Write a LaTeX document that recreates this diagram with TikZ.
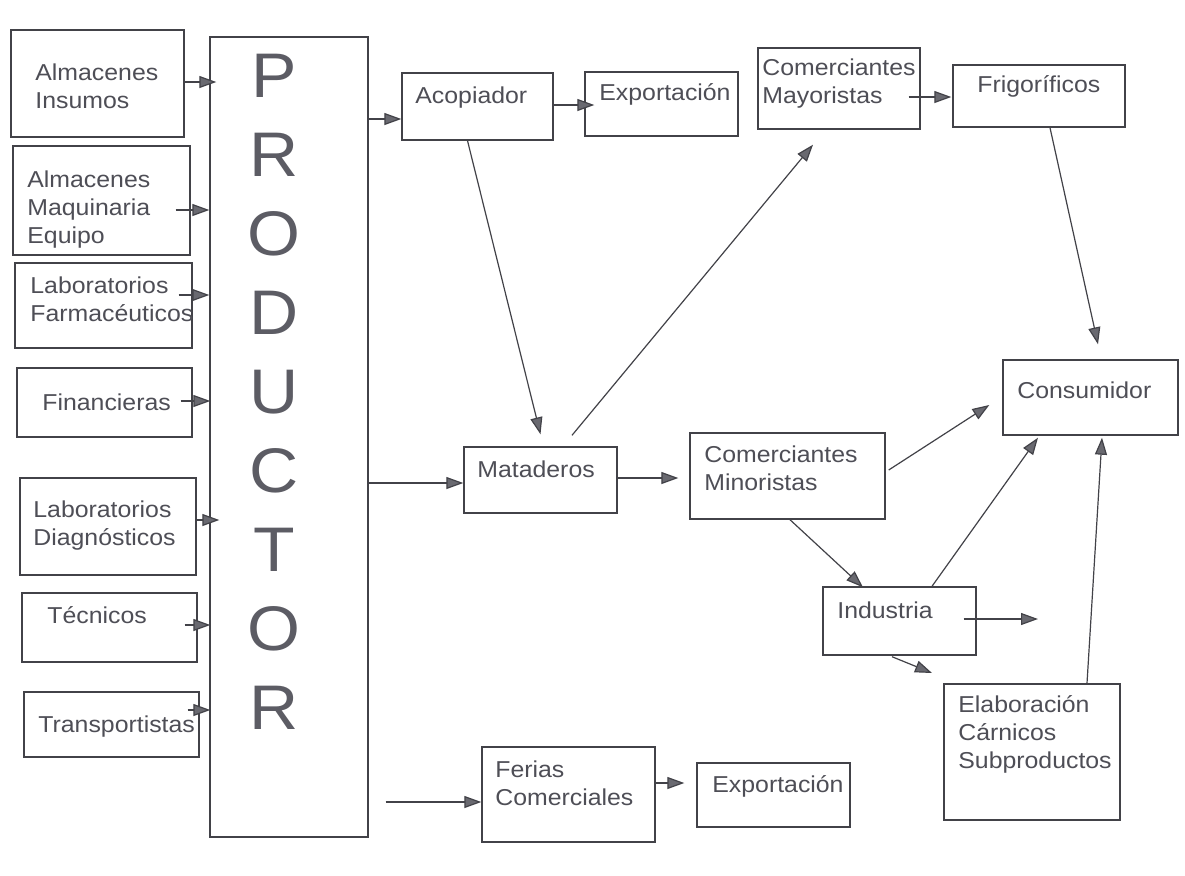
\documentclass[tikz,border=0pt]{standalone}
\usepackage{fontspec}
\setmainfont[FakeStretch=1.08]{Liberation Sans}
\usetikzlibrary{arrows.meta,calc,fit}
\definecolor{ink}{RGB}{66,66,72}
\definecolor{txtc}{RGB}{78,78,86}
\definecolor{bigc}{RGB}{92,92,100}
\definecolor{tipc}{RGB}{105,105,112}
\tikzset{
  box/.style={draw=ink, line width=0.7pt, inner sep=0pt, rectangle},
  txt/.style={text=txtc, inner sep=0pt, anchor=base west, font=\fontsize{11.5}{14}\selectfont},
  arr/.style={draw=ink, line width=0.6pt, -{Triangle[length=8.5pt,width=6pt,fill=tipc]}},
}
\newcommand\mkbox[5]{\path (#2,#3) coordinate (#1-nw) (#4,#5) coordinate (#1-se); \node[box, fit=(#1-nw)(#1-se)] (#1) {};}
\newcommand\ml[1]{\begin{tabular}[t]{@{}l@{}}#1\end{tabular}}
\begin{document}
\begin{tikzpicture}[x=0.5pt,y=-0.5pt]
\useasboundingbox[fill=white] (0,0) rectangle (1185,875);
% boxes
\mkbox{ins}{11}{30}{184}{137}
\mkbox{maq}{13}{146}{190}{255}
\mkbox{farm}{15}{263}{192}{348}
\mkbox{fin}{17}{368}{192}{437}
\mkbox{diag}{20}{478}{196}{575}
\mkbox{tec}{22}{593}{197}{662}
\mkbox{trans}{24}{692}{199}{757}
\mkbox{prod}{210}{37}{368}{837}
\mkbox{acop}{402}{73}{553}{140}
\mkbox{exp1}{585}{72}{738}{136}
\mkbox{cmay}{758}{48}{920}{129}
\mkbox{frig}{953}{65}{1125}{127}
\mkbox{cons}{1003}{360}{1178}{435}
\mkbox{mat}{464}{447}{617}{513}
\mkbox{cmin}{690}{433}{885}{519}
\mkbox{ind}{823}{587}{976}{655}
\mkbox{elab}{944}{684}{1120}{820}
\mkbox{fer}{482}{747}{655}{842}
\mkbox{exp2}{697}{763}{850}{827}
% texts
\node[txt] (ins-t) at (35,80) {\ml{Almacenes\\Insumos}};
\node[txt] (maq-t) at (27,187) {\ml{Almacenes\\Maquinaria\\Equipo}};
\node[txt] (farm-t) at (30,293) {\ml{Laboratorios\\Farmacéuticos}};
\node[txt] (fin-t) at (42,410) {Financieras};
\node[txt] (diag-t) at (33,517) {\ml{Laboratorios\\Diagnósticos}};
\node[txt] (tec-t) at (47,623) {Técnicos};
\node[txt] (trans-t) at (38,732) {Transportistas};
\node[txt, text=bigc, anchor=base, font=\fontsize{31.5}{39.5}\selectfont] (prod-t) at (274,97)
  {\begin{tabular}[t]{@{}c@{}}P\\R\\O\\D\\U\\C\\T\\O\\R\end{tabular}};
\node[txt] (acop-t) at (415,103) {Acopiador};
\node[txt] (exp1-t) at (599,100) {Exportación};
\node[txt] (cmay-t) at (762,75) {\ml{Comerciantes\\Mayoristas}};
\node[txt] (frig-t) at (977,92) {Frigoríficos};
\node[txt] (cons-t) at (1017,398) {Consumidor};
\node[txt] (mat-t) at (477,477) {Mataderos};
\node[txt] (cmin-t) at (704,462) {\ml{Comerciantes\\Minoristas}};
\node[txt] (ind-t) at (837,618) {Industria};
\node[txt] (elab-t) at (958,712) {\ml{Elaboración\\Cárnicos\\Subproductos}};
\node[txt] (fer-t) at (495,777) {\ml{Ferias\\Comerciales}};
\node[txt] (exp2-t) at (712,792) {Exportación};
% arrows into PRODUCTOR
\draw[arr] ($(ins.east)+(0,-1.5)$) -- ($(ins.east -| prod.west)+(7,-1.5)$);
\draw[arr] ($(maq.east)+(-15,9.5)$) -- ($(maq.east -| prod.west)+(0,9.5)$);
\draw[arr] ($(farm.east)+(-14,-10.5)$) -- ($(farm.east -| prod.west)+(0,-10.5)$);
\draw[arr] ($(fin.east)+(-12,-1.5)$) -- ($(fin.east -| prod.west)+(1,-1.5)$);
\draw[arr] ($(diag.east)+(-1,-6.5)$) -- ($(diag.east -| prod.west)+(10,-6.5)$);
\draw[arr] ($(tec.east)+(-13,-2.5)$) -- ($(tec.east -| prod.west)+(1,-2.5)$);
\draw[arr] ($(trans.east)+(-12,-14.5)$) -- ($(trans.east -| prod.west)+(1,-14.5)$);
% arrows out of PRODUCTOR
\draw[arr] ($(acop.west -| prod.east)+(0,12.5)$) -- ($(acop.west)+(0,12.5)$);
\draw[arr] ($(mat.west -| prod.east)+(0,3)$) -- ($(mat.west)+(0,3)$);
\draw[arr] ($(fer.west -| prod.east)+(17,7.5)$) -- ($(fer.west)+(0,7.5)$);
% chain
\draw[arr] ($(acop.east)+(0,-1.5)$) -- ($(exp1.west)+(10,1)$);
\draw[arr] ($(acop.south)+(-10,0)$) -- ($(mat.north)+(0,-12)$);
\draw[arr] ($(mat.north)+(31.5,-11)$) -- ($(cmay.south)+(-26,15)$);
\draw[arr] ($(mat.east)+(0,-2)$) -- ($(cmin.west)+(-11,2)$);
\draw[arr] ($(cmay.east)+(-12,8.5)$) -- ($(frig.west)+(-1,1)$);
\draw[arr] ($(frig.south)+(11,0)$) -- ($(cons.north)+(7.5,-15)$);
\draw[arr] ($(cmin.east)+(3,-6)$) -- ($(cons.west)+(-13,7.5)$);
\draw[arr] ($(cmin.south)+(2.5,0)$) -- ($(ind.north)+(-36.5,1)$);
\draw[arr] ($(ind.north)+(32.5,0)$) -- ($(cons.south)+(-52.5,2)$);
\draw[arr] ($(elab.north)+(55,0)$) -- ($(cons.south)+(11.5,2)$);
\coordinate (indout) at (1038,619);
\coordinate (indelab) at (932,673);
\draw[arr] ($(ind.east)+(-13,-2)$) -- (indout);
\draw[arr] ($(ind.south)+(-7.5,1)$) -- (indelab);
\draw[arr] ($(fer.east)+(0,-11.5)$) -- ($(exp2.west)+(-12,-12)$);
\end{tikzpicture}
\end{document}
